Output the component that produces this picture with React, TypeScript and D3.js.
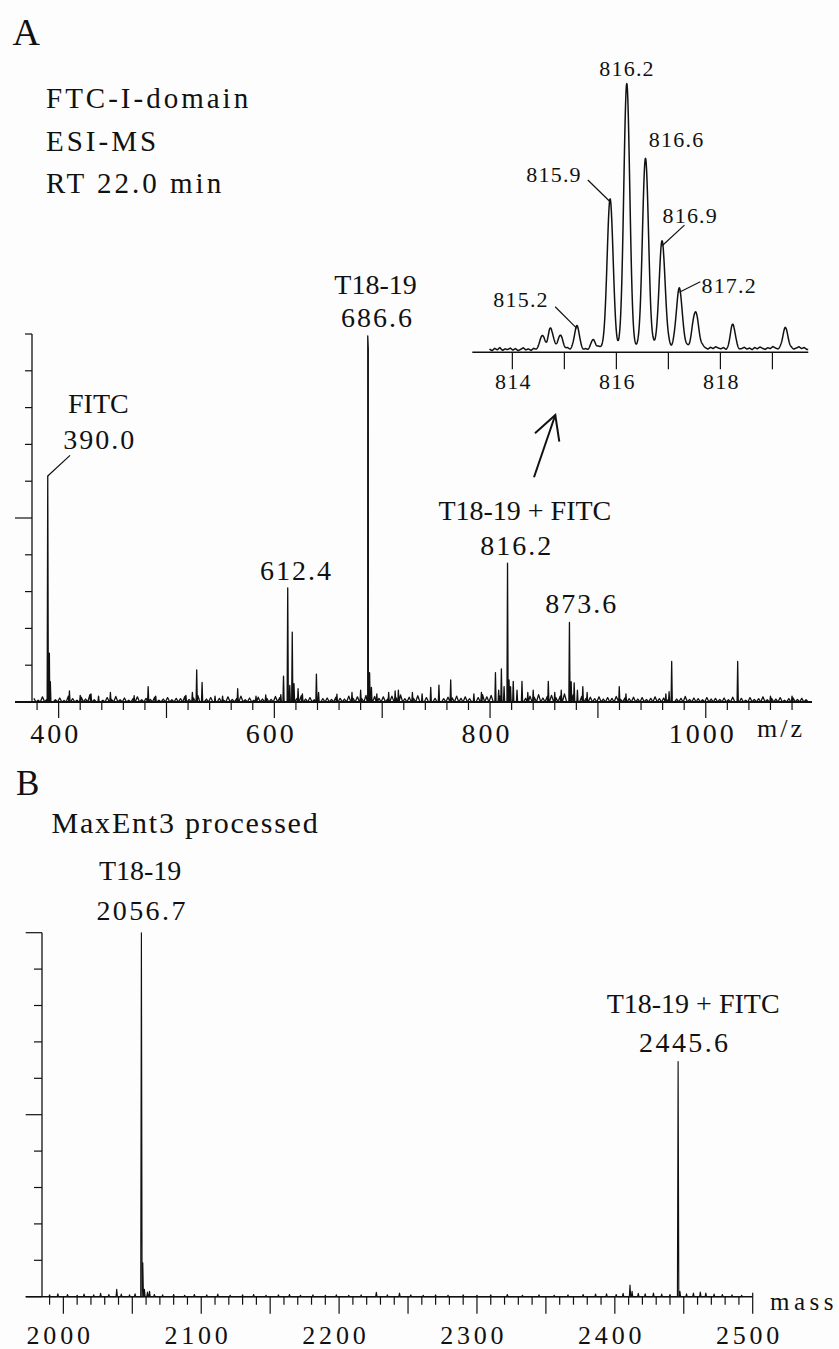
import React from 'react';
import * as d3 from 'd3';

const FONT = '"Liberation Serif", "Times New Roman", Times, serif';
const INK = '#111';

// ---------- Panel A: ESI-MS spectrum (m/z, relative intensity %) ----------
const peaksA: [number, number][] = [
  [389.9, 61.4], [391.4, 13.3], [392.3, 5.5], [410, 3], [420, 1.8], [430, 2.2], [437, 1.6],
  [448, 2.6], [470, 1.7], [483, 4.2], [490, 1.6], [518, 1.8], [524, 2.6], [528, 8.7],
  [533, 5.3], [545, 1.6], [552, 1.6], [566, 3.6], [583, 1.6], [592, 1.9], [606, 2.0],
  [608.5, 7.0], [612.4, 31], [614.3, 4.5], [616.6, 19], [618.2, 5], [622, 3.6], [626, 2.2],
  [639, 7.6], [641, 2.6], [658, 2.1], [672, 2.6], [680, 3.2], [686.6, 99.5], [687.1, 96],
  [688.3, 8], [690, 4], [695, 2.2], [706, 2.6], [712, 3.0], [715, 3.2], [728, 2.6], [737, 2.2],
  [745, 4.0], [752.6, 4.6], [763.5, 6.0], [785, 2.2], [792, 2.6], [805, 8], [808, 3.2],
  [810.5, 9], [813, 4.2], [816.2, 37.7], [817.6, 6], [819, 4.2], [821.5, 5.6], [825, 3.2],
  [829.6, 5.6], [835, 2.6], [840, 3.2], [854, 5.6], [860, 2.6], [866, 3.2], [873.6, 21.6],
  [875.2, 5.5], [878, 5.2], [881, 3.2], [886, 4.2], [890, 2.6], [919.8, 4.2], [926, 2.2],
  [963, 2.2], [966, 2.8], [968.4, 11], [1029.6, 11], [1060, 1.6], [1080, 1.6],
];
const noiseAStart = 377;
const noiseAStep = 4;
const noiseA = [
  1.0, 0.5, 1.4, 0.7, 1.8, 0.6, 1.1, 0.4, 1.6, 0.9, 0.5, 1.3, 0.8, 2.0, 0.6, 1.0, 0.5, 1.2, 0.7, 1.5,
  0.6, 1.1, 0.5, 0.9, 1.4, 0.6, 1.0, 0.7, 1.3, 0.5, 0.8, 1.2, 0.6, 1.0, 0.9, 1.5, 0.7, 1.1, 1.8, 1.3,
  0.8, 1.2, 0.6, 1.0, 0.5, 1.4, 0.7, 0.9, 1.6, 0.6, 1.1, 0.5, 1.3, 0.8, 1.0, 0.7, 1.5, 1.2, 2.0, 1.6,
  1.4, 1.0, 1.7, 0.8, 1.2, 0.6, 1.5, 0.9, 1.1, 0.7, 1.3, 1.0, 0.8, 1.6, 1.0, 1.4, 0.9, 1.8, 1.2, 1.5,
  1.0, 1.4, 0.8, 1.6, 1.1, 1.9, 0.9, 1.3, 1.0, 1.7, 0.8, 1.2, 1.5, 1.0, 1.8, 0.9, 1.3, 1.1, 1.6, 1.0,
  1.4, 0.9, 1.7, 1.2, 2.0, 1.4, 1.8, 1.1, 1.6, 1.3, 2.1, 1.5, 1.2, 1.9, 1.0, 1.6, 1.3, 2.0, 1.1, 1.5,
  1.8, 1.2, 1.6, 2.2, 1.4, 1.9, 1.1, 1.5, 1.0, 1.3, 0.9, 1.4, 0.8, 1.2, 1.0, 1.5, 0.7, 1.1, 0.9, 1.3,
  0.8, 1.2, 0.7, 1.0, 1.4, 0.9, 1.1, 0.6, 1.3, 0.8, 1.0, 1.5, 0.7, 1.1, 0.9, 0.6, 1.2, 0.8, 1.0, 0.7,
  1.1, 0.6, 1.3, 0.8, 1.0, 0.5, 1.2, 0.7, 0.9, 1.4, 0.6, 1.0, 0.8, 1.2, 0.5, 0.9, 1.1, 0.7, 1.0, 0.6,
];
const ticksA = d3.range(380, 1081, 20);
const tickLabelsA = [400, 600, 800, 1000];
const peakLabelsA = [
  { mz: 389.9, h: 61.4, name: 'FITC', value: '390.0' },
  { mz: 686.6, h: 99.5, name: 'T18-19', value: '686.6' },
  { mz: 612.4, h: 31, name: '', value: '612.4' },
  { mz: 816.2, h: 37.7, name: 'T18-19 + FITC', value: '816.2' },
  { mz: 873.6, h: 21.6, name: '', value: '873.6' },
];
const titleLinesA = ['FTC-I-domain', 'ESI-MS', 'RT 22.0 min'];

// ---------- Inset: isotope cluster around 816 ----------
const insetPeaks: [number, number][] = [
  [814.57, 4.5], [814.74, 7.2], [814.92, 5.3], [815.24, 9], [815.55, 3],
  [815.88, 56.7], [816.2, 100], [816.56, 71.5], [816.88, 40.1], [817.21, 22.6],
  [817.52, 13.9], [818.24, 9], [819.25, 8.3],
];
const insetNoiseStart = 813.56;
const insetNoiseStep = 0.05;
const insetNoise = [
  1.2, 0.6, 1.5, 0.9, 1.8, 0.7, 1.3, 1.0, 1.6, 0.8, 1.4, 0.6, 1.1, 1.7, 0.9, 1.3, 0.7, 1.5, 1.0, 1.2,
  1.6, 2.4, 1.8, 2.6, 1.4, 2.0, 1.2, 1.0, 1.6, 1.3, 1.8, 1.1, 1.5, 0.9, 1.2, 1.6, 1.0, 1.4, 0.8, 1.3,
  1.9, 1.5, 2.2, 1.7, 1.3, 1.0, 1.2, 0.8, 1.1, 0.9, 1.3, 0.7, 1.0, 1.2, 0.8, 1.1, 1.6, 1.9, 1.4, 2.1,
  1.5, 1.8, 1.2, 2.4, 1.9, 1.6, 2.2, 1.4, 1.8, 2.5, 1.6, 2.0, 1.3, 1.7, 1.1, 1.5, 2.1, 1.4, 1.9, 1.2,
  1.8, 1.5, 2.3, 1.7, 1.2, 1.9, 1.4, 2.1, 1.6, 1.3, 1.8, 1.0, 1.5, 2.0, 1.3, 1.7, 1.1, 1.4, 1.9, 1.2,
  1.6, 1.0, 1.8, 1.3, 2.0, 1.5, 1.1, 1.7, 1.4, 2.2, 1.6, 1.2, 1.9, 1.4, 1.0, 1.5, 1.8, 1.2, 1.6, 2.1,
  1.4, 1.8, 1.1,
];
const insetTicks = [814, 815, 816, 817, 818, 819];
const insetTickLabels = [814, 816, 818];
const insetLabels = [
  { mz: 816.2, h: 100, value: '816.2' },
  { mz: 816.56, h: 71.5, value: '816.6' },
  { mz: 815.88, h: 56.7, value: '815.9' },
  { mz: 816.88, h: 40.1, value: '816.9' },
  { mz: 817.21, h: 22.6, value: '817.2' },
  { mz: 815.24, h: 9, value: '815.2' },
];

// ---------- Panel B: MaxEnt3 deconvoluted (mass, relative intensity %) ----------
const peaksB: [number, number][] = [
  [1990, 0.5], [1996, 0.8], [2003, 0.6], [2010, 0.4], [2015, 0.7], [2022, 0.5], [2027, 0.9],
  [2033, 0.6], [2038.7, 2.0], [2042, 0.7], [2048, 0.5], [2052, 0.8], [2056.6, 100], [2057.6, 9.3],
  [2058.8, 2.0], [2061, 1.3], [2062.5, 1.5], [2066, 0.6], [2072, 0.5], [2080, 0.6], [2088, 0.4],
  [2095, 0.6], [2104, 0.5], [2112, 0.7], [2121, 0.4], [2130, 0.5], [2138, 0.6], [2147, 0.4],
  [2156, 0.5], [2164, 0.6], [2172, 0.4], [2181, 0.5], [2190, 0.4], [2198, 0.5], [2207, 0.4],
  [2216, 0.5], [2227, 1.2], [2235, 0.5], [2243.8, 1.0], [2252, 0.5], [2261, 0.4], [2270, 0.5],
  [2279, 0.4], [2290, 0.5], [2300, 0.4], [2310, 0.5], [2322, 0.6], [2333, 0.4], [2345, 0.5],
  [2356, 0.4], [2366, 0.5], [2377, 0.6], [2386, 0.7], [2394, 0.8], [2401, 0.6], [2406, 0.9],
  [2411, 3.2], [2412.5, 1.5], [2417, 0.9], [2422, 0.8], [2428, 1.0], [2434, 0.7], [2440, 0.6],
  [2445.9, 64.6], [2447.2, 1.5], [2452, 0.8], [2457, 1.0], [2462, 1.3], [2466, 1.0], [2472, 0.7],
  [2478, 0.6], [2485, 0.5], [2492, 0.4],
];
const ticksB = d3.range(1990, 2501, 10);
const tickLabelsB = [2000, 2100, 2200, 2300, 2400, 2500];
const peakLabelsB = [
  { mz: 2056.6, h: 100, name: 'T18-19', value: '2056.7' },
  { mz: 2445.9, h: 64.6, name: 'T18-19 + FITC', value: '2445.6' },
];
const yTickValues = d3.range(0, 101, 10);

function stickPoints(peaks: [number, number][], hw: number, noise?: { start: number; step: number; values: number[] }) {
  let pts: [number, number][] = [];
  if (noise) {
    noise.values.forEach((n, i) => {
      const x = noise.start + i * noise.step;
      pts.push([x, n]);
      pts.push([x + noise.step / 2, 0]);
    });
    pts = pts.filter(([x]) => !peaks.some(([m]) => Math.abs(x - m) < hw * 1.6));
  }
  peaks.forEach(([m, h]) => {
    pts.push([m - hw, 0], [m, h], [m + hw, 0]);
  });
  pts.sort((a, b) => a[0] - b[0]);
  return pts;
}

function insetProfile(x0: number, x1: number, dx: number) {
  const out: [number, number][] = [];
  for (let x = x0; x <= x1 + 1e-9; x += dx) {
    const fi = (x - insetNoiseStart) / insetNoiseStep;
    const i = Math.max(0, Math.min(insetNoise.length - 2, Math.floor(fi)));
    const t = Math.max(0, Math.min(1, fi - i));
    let v = insetNoise[i] * (1 - t) + insetNoise[i + 1] * t;
    insetPeaks.forEach(([m, h]) => {
      const s = h < 12 ? 0.045 : 0.058;
      v += h * Math.exp(-((x - m) * (x - m)) / (2 * s * s));
    });
    out.push([x, v]);
  }
  return out;
}

export default function App() {
  // scales
  const xA = d3.scaleLinear().domain([375.3, 1098.5]).range([32, 812]);
  const yA = d3.scaleLinear().domain([0, 100]).range([702, 334]);
  const xI = d3.scaleLinear().domain([813.23, 819.69]).range([472.3, 808.3]);
  const yI = d3.scaleLinear().domain([0, 100]).range([352.3, 86.7]);
  const xB = d3.scaleLinear().domain([1984.5, 2500]).range([42, 752.7]);
  const yB = d3.scaleLinear().domain([0, 100]).range([1296.7, 932.7]);

  const lineA = d3.line<[number, number]>().x((d) => xA(d[0])).y((d) => yA(d[1]));
  const lineI = d3.line<[number, number]>().x((d) => xI(d[0])).y((d) => yI(d[1]));
  const lineB = d3.line<[number, number]>().x((d) => xB(d[0])).y((d) => yB(d[1]));

  const ptsA = stickPoints(peaksA, 0.55, { start: noiseAStart, step: noiseAStep, values: noiseA });
  const ptsB = stickPoints(peaksB, 0.5);
  const ptsI = insetProfile(813.56, 819.69, 0.004);

  const yA0 = yA(0);
  const yB0 = yB(0);
  const yI0 = yI(0);

  // label layout (offsets relative to peak tops)
  const layoutA = [
    { vdx: 51, vdy: -26.7, ndx: 50.6, ndy: -63.4, leader: [22.3, -20.7] },
    { vdx: 8.8, vdy: -8.7, ndx: 7.8, ndy: -42, leader: null },
    { vdx: 7.7, vdy: -7.6, ndx: 0, ndy: 0, leader: null },
    { vdx: 8.3, vdy: -8.3, ndx: 17.3, ndy: -43.3, leader: null },
    { vdx: 11.2, vdy: -9.4, ndx: 0, ndy: 0, leader: null },
  ];
  const layoutI = [
    { dx: -0.3, dy: -10.7, leader: null },
    { dx: 30.5, dy: -15.6, leader: null },
    { dx: -56.7, dy: -20, leader: [-22.3, -21.7] },
    { dx: 27.5, dy: -22.4, leader: [22.3, -20.7] },
    { dx: 49.3, dy: 0.4, leader: [21, -10.6] },
    { dx: -56.4, dy: -21.6, leader: [-21.7, -21.6] },
  ];
  const layoutB = [
    { vdx: -0.5, vdy: -12.7, ndx: -1.3, ndy: -52.7 },
    { vdx: 5.5, vdy: -10, ndx: 15, ndy: -48.7 },
  ];

  const numStyle = (size: number, ls: number) => ({
    fontFamily: FONT, fontSize: size, letterSpacing: ls, fill: INK,
  });

  return (
    <svg width={839} height={1349} viewBox="0 0 839 1349"
      style={{ position: 'absolute', left: 0, top: 0, background: '#fdfdfd' }}>
      <rect x={0} y={0} width={839} height={1349} fill="#fdfdfd" />

      {/* ---------------- Panel A ---------------- */}
      <text x={12.5} y={45} style={{ fontFamily: FONT, fontSize: 38, fill: INK }}>A</text>
      {titleLinesA.map((t, i) => (
        <text key={t} x={46} y={108.3 + i * 42.2} style={numStyle(29, 3)}>{t}</text>
      ))}

      {/* axes */}
      <line x1={xA.range()[0]} x2={xA.range()[0]} y1={yA(100)} y2={yA0} stroke={INK} strokeWidth={1.3} />
      <line x1={15} x2={xA.range()[1]} y1={yA0} y2={yA0} stroke={INK} strokeWidth={1.8} />
      {yTickValues.map((v) => (
        <line key={v} x1={v === 50 || v === 0 ? 15 : 25} x2={xA.range()[0]} y1={yA(v)} y2={yA(v)}
          stroke={INK} strokeWidth={1.2} />
      ))}
      {ticksA.map((t) => (
        <line key={t} x1={xA(t)} x2={xA(t)} y1={yA0} y2={yA0 + (t % 100 === 0 ? 16 : 8)}
          stroke={INK} strokeWidth={1.2} />
      ))}
      {tickLabelsA.map((t) => (
        <text key={t} x={xA(t) - 3} y={743.3} textAnchor="middle" style={numStyle(28, 3)}>{t}</text>
      ))}
      <text x={757} y={737.3} style={numStyle(26, 3)}>m/z</text>

      {/* spectrum */}
      <path d={lineA(ptsA) || ''} fill="none" stroke={INK} strokeWidth={1.3} strokeLinejoin="round" />

      {/* peak labels */}
      {peakLabelsA.map((p, i) => {
        const L = layoutA[i];
        const px = xA(p.mz);
        const py = yA(p.h);
        return (
          <g key={p.value}>
            {L.leader && (
              <line x1={px} y1={py} x2={px + L.leader[0]} y2={py + L.leader[1]} stroke={INK} strokeWidth={1.2} />
            )}
            {p.name && (
              <text x={px + L.ndx} y={py + L.ndy} textAnchor="middle"
                style={{ fontFamily: FONT, fontSize: 28, fill: INK }}>{p.name}</text>
            )}
            <text x={px + L.vdx + 1} y={py + L.vdy} textAnchor="middle" style={numStyle(28, 2)}>{p.value}</text>
          </g>
        );
      })}

      {/* arrow to inset */}
      <line x1={534} y1={477.3} x2={555.3} y2={415} stroke={INK} strokeWidth={2} />
      <polyline points="535,433.3 555.3,415 559.3,441.7" fill="none" stroke={INK} strokeWidth={2} />

      {/* ---------------- Inset ---------------- */}
      <line x1={xI.range()[0]} x2={xI.range()[1]} y1={yI0} y2={yI0} stroke={INK} strokeWidth={1.4} />
      {insetTicks.map((t) => (
        <line key={t} x1={xI(t)} x2={xI(t)} y1={yI0} y2={yI0 + 17} stroke={INK} strokeWidth={1.2} />
      ))}
      {insetTickLabels.map((t) => (
        <text key={t} x={xI(t) + 1} y={389.3} textAnchor="middle" style={numStyle(22, 1.2)}>{t}</text>
      ))}
      <path d={lineI(ptsI) || ''} fill="none" stroke={INK} strokeWidth={1.5} strokeLinejoin="round" />
      {insetLabels.map((p, i) => {
        const L = layoutI[i];
        const px = xI(p.mz);
        const py = yI(p.h);
        return (
          <g key={p.value}>
            {L.leader && (
              <line x1={px} y1={py} x2={px + L.leader[0]} y2={py + L.leader[1]} stroke={INK} strokeWidth={1.2} />
            )}
            <text x={px + L.dx + 0.6} y={py + L.dy} textAnchor="middle" style={numStyle(22, 1.2)}>{p.value}</text>
          </g>
        );
      })}

      {/* ---------------- Panel B ---------------- */}
      <text x={16} y={795} style={{ fontFamily: FONT, fontSize: 35, fill: INK }}>B</text>
      <text x={51.5} y={833} style={numStyle(30, 1.8)}>MaxEnt3 processed</text>

      <line x1={xB.range()[0]} x2={xB.range()[0]} y1={yB(100)} y2={yB0} stroke={INK} strokeWidth={1.3} />
      <line x1={25.7} x2={xB.range()[1]} y1={yB0} y2={yB0} stroke={INK} strokeWidth={1.6} />
      {yTickValues.map((v) => (
        <line key={v} x1={v === 50 || v === 100 || v === 0 ? 25.7 : 34} x2={xB.range()[0]} y1={yB(v)} y2={yB(v)}
          stroke={INK} strokeWidth={1.2} />
      ))}
      {ticksB.map((t) => (
        <line key={t} x1={xB(t)} x2={xB(t)} y1={t === 2500 ? yB0 - 4 : yB0} y2={yB0 + (t % 50 === 0 ? 17 : 8)}
          stroke={INK} strokeWidth={1.2} />
      ))}
      {tickLabelsB.map((t) => (
        <text key={t} x={xB(t) - 3.2} y={1344} textAnchor="middle" style={numStyle(26, 3.8)}>{t}</text>
      ))}
      <text x={770} y={1310} style={numStyle(25, 4.5)}>mass</text>

      <path d={lineB(ptsB) || ''} fill="none" stroke={INK} strokeWidth={1.15} strokeLinejoin="round" />

      {peakLabelsB.map((p, i) => {
        const L = layoutB[i];
        const px = xB(p.mz);
        const py = yB(p.h);
        return (
          <g key={p.value}>
            <text x={px + L.ndx} y={py + L.ndy} textAnchor="middle"
              style={{ fontFamily: FONT, fontSize: 28, fill: INK }}>{p.name}</text>
            <text x={px + L.vdx + 1.2} y={py + L.vdy} textAnchor="middle" style={numStyle(28, 2.4)}>{p.value}</text>
          </g>
        );
      })}
    </svg>
  );
}
